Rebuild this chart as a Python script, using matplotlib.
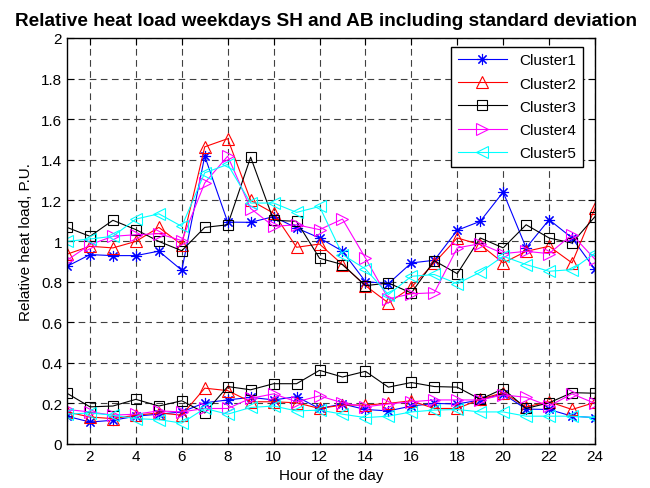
import matplotlib

matplotlib.use("Agg")
import matplotlib.pyplot as plt
from matplotlib.ticker import FuncFormatter

plt.rcParams["font.family"] = ["Liberation Sans", "DejaVu Sans"]

hours = list(range(1, 25))

# mean relative heat load per cluster
c1_mean = [0.875, 0.933, 0.928, 0.928, 0.95, 0.856, 1.418, 1.093, 1.092, 1.12, 1.064, 1.015,
           0.95, 0.80, 0.79, 0.892, 0.905, 1.053, 1.097, 1.241, 0.966, 1.105, 1.015, 0.86]
c2_mean = [0.935, 0.974, 0.966, 0.998, 1.067, 0.982, 1.464, 1.504, 1.2, 1.137, 0.969, 0.985,
           0.884, 0.78, 0.695, 0.772, 0.892, 1.015, 0.982, 0.892, 0.949, 0.974, 0.892, 1.162]
c3_mean = [1.067, 1.023, 1.102, 1.056, 0.998, 0.952, 1.067, 1.08, 1.413, 1.102, 1.097, 0.915,
           0.884, 0.78, 0.793, 0.744, 0.903, 0.839, 1.015, 0.966, 1.08, 1.015, 0.99, 1.12]
c4_mean = [0.905, 0.982, 1.023, 1.031, 1.036, 1.002, 1.286, 1.418, 1.16, 1.072, 1.08, 1.056,
           1.108, 0.916, 0.715, 0.74, 0.745, 0.966, 0.987, 0.938, 0.949, 0.938, 1.031, 0.91]
c5_mean = [0.998, 1.01, 1.023, 1.108, 1.134, 1.072, 1.336, 1.377, 1.187, 1.187, 1.141, 1.17,
           0.933, 0.862, 0.736, 0.826, 0.835, 0.79, 0.846, 0.925, 0.884, 0.851, 0.859, 0.94]

# standard deviation per cluster
c1_std = [0.137, 0.108, 0.117, 0.137, 0.147, 0.158, 0.203, 0.217, 0.23, 0.217, 0.233, 0.175,
          0.197, 0.17, 0.163, 0.187, 0.2, 0.197, 0.217, 0.247, 0.172, 0.17, 0.137, 0.13]
c2_std = [0.158, 0.133, 0.125, 0.142, 0.153, 0.142, 0.275, 0.263, 0.208, 0.208, 0.203, 0.175,
          0.192, 0.192, 0.2, 0.213, 0.175, 0.175, 0.22, 0.253, 0.183, 0.208, 0.17, 0.205]
c3_std = [0.25, 0.183, 0.187, 0.22, 0.187, 0.213, 0.153, 0.283, 0.267, 0.297, 0.297, 0.363,
          0.33, 0.358, 0.28, 0.303, 0.283, 0.28, 0.22, 0.272, 0.175, 0.203, 0.253, 0.25]
c4_std = [0.17, 0.158, 0.142, 0.147, 0.163, 0.158, 0.175, 0.175, 0.225, 0.247, 0.208, 0.237,
          0.203, 0.183, 0.197, 0.208, 0.217, 0.217, 0.217, 0.242, 0.23, 0.187, 0.247, 0.2]
c5_std = [0.147, 0.153, 0.142, 0.125, 0.12, 0.103, 0.175, 0.147, 0.18, 0.187, 0.163, 0.167,
          0.147, 0.13, 0.137, 0.158, 0.167, 0.17, 0.158, 0.158, 0.137, 0.137, 0.137, 0.13]

labels = ["Cluster1", "Cluster2", "Cluster3", "Cluster4", "Cluster5"]
means = [c1_mean, c2_mean, c3_mean, c4_mean, c5_mean]
stds = [c1_std, c2_std, c3_std, c4_std, c5_std]
colors = ["#0000ff", "#ff0000", "#000000", "#ff00ff", "#00ffff"]
markers = [(8, 2, 0), "^", "s", ">", "<"]
msizes = [8, 9, 7, 9, 9]

fig = plt.figure(figsize=(6.5, 4.89), dpi=100)
ax = fig.add_axes([67 / 650, 1 - 445 / 489, (595 - 67) / 650, (445 - 39) / 489])

for lab, m, s, c, mk, ms in zip(labels, means, stds, colors, markers, msizes):
    ax.plot(hours, m, color=c, marker=mk, ms=ms, mfc="none", mec=c, mew=0.8,
            lw=0.8, label=lab)
    ax.plot(hours, s, color=c, marker=mk, ms=ms, mfc="none", mec=c, mew=0.8, lw=0.8)

ax.set_xlim(1, 24)
ax.set_ylim(0, 2)
ax.set_xticks(range(2, 25, 2))
ax.set_yticks([i * 0.2 for i in range(11)])
ax.yaxis.set_major_formatter(FuncFormatter(lambda v, p: f"{v:g}"))
ax.tick_params(direction="in", top=True, right=True, labelsize=11, length=5, width=0.8)
ax.grid(True, color="0.25", linestyle=(0, (6, 4)), linewidth=0.8)
for sp in ax.spines.values():
    sp.set_linewidth(1.0)

ax.set_title("Relative heat load weekdays SH and AB including standard deviation",
             fontsize=13.7, fontweight="bold", pad=9, x=0.49)
ax.set_xlabel("Hour of the day", fontsize=11, labelpad=4)
ax.set_ylabel("Relative heat load, P.U.", fontsize=11, labelpad=6)

leg = ax.legend(loc="upper right", bbox_to_anchor=(0.977, 0.979), fontsize=11,
                fancybox=False, edgecolor="black", framealpha=1, handlelength=3.2,
                borderpad=0.45, labelspacing=0.6, borderaxespad=0)
leg.get_frame().set_linewidth(1.0)

fig.savefig("out.png", dpi=100)
